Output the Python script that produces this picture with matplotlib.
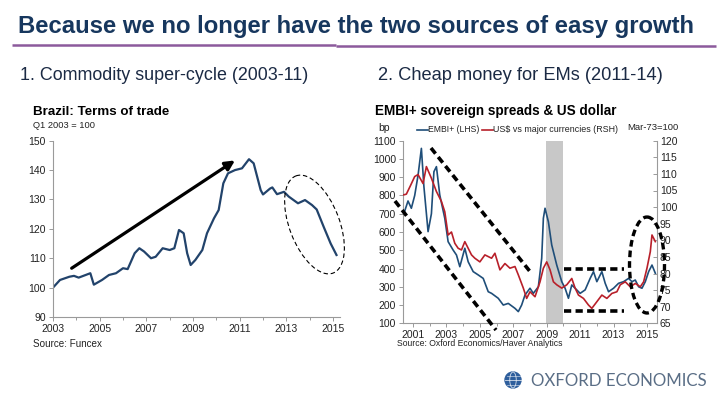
import matplotlib
matplotlib.use("Agg")
import matplotlib.pyplot as plt
from matplotlib.patches import Ellipse, Circle

plt.rcParams['font.family'] = ['Liberation Sans', 'DejaVu Sans']

# ---------------- data ----------------
tot_year = [2003.0, 2003.3, 2003.7, 2003.9, 2004.1, 2004.4, 2004.6, 2004.75, 2005.1, 2005.4,
            2005.7, 2006.0, 2006.2, 2006.5, 2006.7, 2006.9, 2007.2, 2007.4, 2007.7, 2008.0,
            2008.2, 2008.4, 2008.6, 2008.75, 2008.9, 2009.1, 2009.4, 2009.6, 2009.9, 2010.1,
            2010.3, 2010.5, 2010.8, 2011.1, 2011.4, 2011.6, 2011.9, 2012.0, 2012.3, 2012.4,
            2012.6, 2012.9, 2013.1, 2013.5, 2013.8, 2014.1, 2014.3, 2014.6, 2014.9, 2015.15]
tot_value = [100.0, 102.6, 103.7, 104.0, 103.4, 104.3, 104.9, 101.0, 102.6, 104.3,
             104.9, 106.6, 106.3, 111.7, 113.4, 112.3, 110.0, 110.5, 113.4, 112.8,
             113.4, 119.6, 118.5, 111.7, 107.7, 109.4, 112.8, 118.5, 123.6, 126.4,
             135.5, 138.9, 140.0, 140.6, 143.7, 142.3, 133.2, 131.7, 133.7, 134.1,
             131.8, 132.6, 131.0, 128.7, 129.8, 128.1, 126.6, 120.7, 115.0, 111.1]

embi_year = [2000.45, 2000.7, 2000.9, 2001.1, 2001.3, 2001.5, 2001.65, 2001.9, 2002.1, 2002.25,
             2002.4, 2002.6, 2002.9, 2003.1, 2003.4, 2003.6, 2003.8, 2004.1, 2004.3, 2004.6,
             2004.9, 2005.2, 2005.5, 2005.7, 2006.1, 2006.4, 2006.7, 2007.1, 2007.3, 2007.5,
             2007.7, 2008.0, 2008.2, 2008.5, 2008.7, 2008.8, 2008.9, 2009.1, 2009.3, 2009.6,
             2009.9, 2010.1, 2010.3, 2010.5, 2010.7, 2011.0, 2011.3, 2011.6, 2011.8, 2012.0,
             2012.3, 2012.5, 2012.7, 2013.0, 2013.3, 2013.6, 2013.9, 2014.1, 2014.3, 2014.5,
             2014.7, 2014.9, 2015.1, 2015.3, 2015.5]
embi_bp = [700, 770, 730, 800, 910, 1058, 850, 602, 700, 930,
           958, 803, 675, 547, 501, 474, 410, 511, 437, 383,
           365, 346, 273, 264, 237, 200, 209, 182, 164, 200,
           255, 292, 264, 300, 456, 675, 730, 656, 529, 419,
           328, 292, 237, 310, 292, 264, 283, 346, 383, 328,
           383, 319, 273, 292, 319, 328, 346, 328, 337, 300,
           292, 328, 383, 419, 374]

usd_year = [2000.45, 2000.6, 2000.85, 2001.1, 2001.3, 2001.6, 2001.8, 2002.1, 2002.4, 2002.7,
            2002.9, 2003.1, 2003.3, 2003.5, 2003.7, 2003.9, 2004.1, 2004.3, 2004.5, 2004.7,
            2005.0, 2005.3, 2005.5, 2005.7, 2005.9, 2006.2, 2006.5, 2006.8, 2007.1, 2007.3,
            2007.6, 2007.8, 2008.0, 2008.3, 2008.6, 2008.8, 2009.0, 2009.2, 2009.4, 2009.6,
            2009.9, 2010.2, 2010.5, 2010.7, 2010.9, 2011.2, 2011.5, 2011.7, 2012.0, 2012.3,
            2012.6, 2012.9, 2013.2, 2013.4, 2013.7, 2014.0, 2014.3, 2014.6, 2014.8, 2015.0,
            2015.2, 2015.3, 2015.5]
usd_index = [103.7, 103.9, 106.5, 109.2, 109.8, 107.1, 112.2, 108.7, 104.7, 101.7,
             98.6, 91.6, 92.5, 89.1, 87.6, 87.1, 89.6, 87.6, 85.6, 84.6,
             83.5, 85.6, 85.1, 84.6, 86.1, 81.1, 83.0, 81.6, 82.1, 79.6,
             75.6, 72.5, 74.5, 73.0, 77.5, 81.6, 83.5, 81.1, 77.5, 76.6,
             75.6, 76.6, 78.5, 75.6, 73.5, 72.5, 70.5, 69.5, 71.5, 73.5,
             72.5, 74.0, 74.5, 76.6, 77.5, 76.0, 77.0, 76.0, 77.5, 81.6,
             86.6, 91.6, 89.6]

tot_xticks = [2003, 2005, 2007, 2009, 2011, 2013, 2015]
tot_yticks = [90, 100, 110, 120, 130, 140, 150]
em_xticks = [2001, 2003, 2005, 2007, 2009, 2011, 2013, 2015]
em_lticks = [100, 200, 300, 400, 500, 600, 700, 800, 900, 1000, 1100]
em_rticks = [65, 70, 75, 80, 85, 90, 95, 100, 105, 110, 115, 120]
recession = (2008.97, 2009.98)

# ---------------- figure ----------------
W, H = 720, 405
fig = plt.figure(figsize=(7.2, 4.05), dpi=100)
fig.patch.set_facecolor('white')


def rect(x0, y0, x1, y1):
    return [x0 / W, 1 - y1 / H, (x1 - x0) / W, (y1 - y0) / H]


GRAY = '#9a9a9a'
TXT = '#222222'
BLUE = '#1F4E79'
RED = '#B8202A'


def style(ax, sides):
    for s in ['top', 'right', 'left', 'bottom']:
        ax.spines[s].set_visible(s in sides)
        ax.spines[s].set_color(GRAY)
        ax.spines[s].set_linewidth(0.8)
    ax.tick_params(which='both', colors=GRAY, labelcolor=TXT, labelsize=7.5,
                   length=3, width=0.7, direction='out', pad=2)
    ax.tick_params(which='minor', length=2)
    ax.set_facecolor('none')

# Left chart
ax1 = fig.add_axes(rect(53, 140.7, 340, 317))
ax1.plot(tot_year, tot_value, color='#22436B', lw=1.6, solid_joinstyle='round')
ax1.set_xlim(2003, 2015.3)
ax1.set_ylim(90, 150)
ax1.set_xticks(tot_xticks)
ax1.set_xticks(range(2003, 2016), minor=True)
ax1.set_yticks(tot_yticks)
style(ax1, ['left', 'bottom'])
ax1.annotate('', xy=(2010.8, 143.3), xytext=(2003.8, 106.6),
             arrowprops=dict(arrowstyle='-|>', lw=2.3, color='black', mutation_scale=14,
                             shrinkA=0, shrinkB=0))

# Right chart
ax2 = fig.add_axes(rect(403, 140.7, 657, 323.3))
ax2.axvspan(*recession, color='#c8c8c8', lw=0, zorder=0)
ax2.plot(embi_year, embi_bp, color=BLUE, lw=1.2)
ax2.set_xlim(2000.4, 2015.6)
ax2.set_ylim(100, 1100)
ax2.set_yticks(em_lticks)
ax2.set_xticks(em_xticks)
ax2.set_xticks(range(2001, 2016), minor=True)
style(ax2, ['left', 'bottom'])
ax3 = ax2.twinx()
ax3.plot(usd_year, usd_index, color=RED, lw=1.2)
ax3.set_ylim(65, 120)
ax3.set_yticks(em_rticks)
style(ax3, ['right'])
ax3.tick_params(axis='y', direction='in', length=3)

# ---------------- overlay (pixel coords) ----------------
ov = fig.add_axes([0, 0, 1, 1])
ov.set_xlim(0, W)
ov.set_ylim(H, 0)
ov.axis('off')

fig.canvas.draw()
renderer = fig.canvas.get_renderer()


def put(x, y, s, width=None, size=10, **kw):
    kw.setdefault('va', 'center')
    kw.setdefault('ha', 'left')
    t = ov.text(x, y, s, fontsize=size, **kw)
    if width:
        bb = t.get_window_extent(renderer)
        t.set_fontsize(size * width / bb.width)
    return t

NAVY = '#17375E'
SUB = '#1B2A44'
put(18, 26.5, 'Because we no longer have the two sources of easy growth', width=679,
    size=15, color=NAVY, fontweight='bold')
ov.plot([12, 336], [45, 45], color='#8C5A9C', lw=1.8, solid_capstyle='butt')
ov.plot([336, 716], [46, 46], color='#8C5A9C', lw=1.8, solid_capstyle='butt')
put(20, 76, '1. Commodity super-cycle (2003-11)', width=288, size=11, color=SUB)
put(378, 76, '2. Cheap money for EMs (2011-14)', width=284, size=11, color=SUB)

# left chart texts
put(33, 112, 'Brazil: Terms of trade', width=137, size=9, color='black', fontweight='bold')
put(33, 125, 'Q1 2003 = 100', width=62, size=7, color=TXT)
put(33, 344, 'Source: Funcex', width=69, size=7, color=TXT)

# right chart texts
put(375, 111.5, 'EMBI+ sovereign spreads & US dollar', width=242, size=9, color='black',
    fontweight='bold')
put(378, 128, 'bp', size=7.5, color=TXT)
ov.plot([417, 428], [130, 130], color=BLUE, lw=1.2)
put(428, 130, 'EMBI+ (LHS)', width=51, size=7, color=TXT)
ov.plot([482, 493], [130, 130], color=RED, lw=1.2)
put(493, 130, 'US$ vs major currencies (RSH)', width=124, size=7, color=TXT)
put(627, 127, 'Mar-73=100', width=51, size=7, color=TXT)
put(397, 344, 'Source: Oxford Economics/Haver Analytics', width=166, size=7, color=TXT)

# annotations: dashed shapes
dash = (0, (2, 1.2))
ov.plot([395, 496], [201, 330], color='black', lw=2.6, linestyle=dash)
ov.plot([431, 532], [148, 274], color='black', lw=2.6, linestyle=dash)
ov.plot([564, 624], [268.5, 268.5], color='black', lw=2.6, linestyle=dash)
ov.plot([564, 624], [310.5, 310.5], color='black', lw=2.6, linestyle=dash)
ov.add_patch(Ellipse((647, 265), 35, 96, angle=0, fill=False, ec='black', lw=2.4,
                     linestyle=dash))
ov.add_patch(Ellipse((314.5, 224.5), 50, 104, angle=-21, fill=False, ec='black', lw=0.8,
                     linestyle=(0, (4, 2.5))))

# logo
ov.add_patch(Circle((513, 380), 8, color='#2E5E9C'))
ov.add_patch(Ellipse((513, 380), 6.5, 16, fill=False, ec='white', lw=0.6, alpha=0.8))
ov.plot([505, 521], [380, 380], color='white', lw=0.6, alpha=0.8)
ov.plot([506.5, 519.5], [375.5, 375.5], color='white', lw=0.5, alpha=0.7)
ov.plot([506.5, 519.5], [384.5, 384.5], color='white', lw=0.5, alpha=0.7)
put(531, 381, 'OXFORD ECONOMICS', width=176, size=12, color='#5A6E86',
    family=['Lato', 'DejaVu Sans'])

fig.savefig('out.png', dpi=100, facecolor='white')
